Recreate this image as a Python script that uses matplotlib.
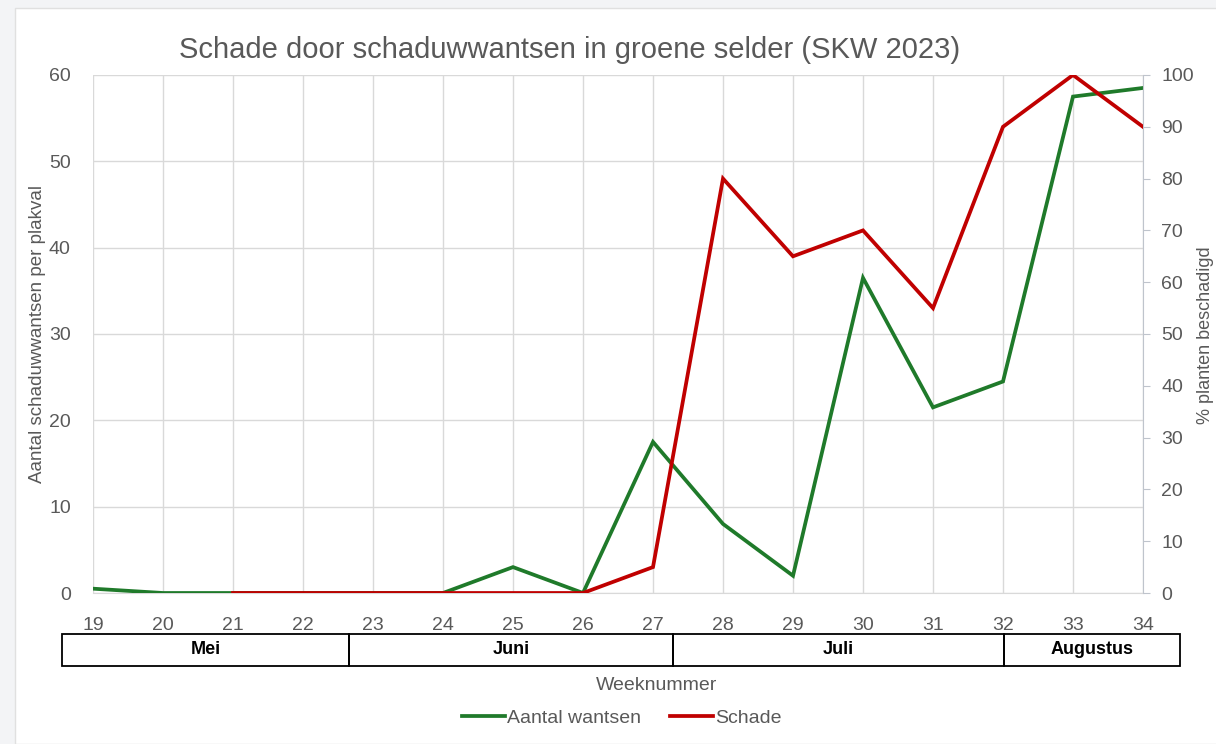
import matplotlib.pyplot as plt
import matplotlib.patches as mpatches
import matplotlib.transforms as mtransforms
from matplotlib.lines import Line2D

plt.rcParams['font.family'] = ['Liberation Sans', 'DejaVu Sans']

# data
weeks = list(range(19, 35))
wantsen = [0.5, 0, 0, 0, 0, 0, 3, 0, 17.5, 8, 2, 36.5, 21.5, 24.5, 57.5, 58.5]
schade_weeks = list(range(21, 35))
schade = [0, 0, 0, 0, 0, 0, 5, 80, 65, 70, 55, 90, 100, 90]

months = ["Mei", "Juni", "Juli", "Augustus"]
month_edges = [18.56, 22.66, 27.29, 32.01, 34.53]

green = "#1f7a2a"
red = "#c00000"
grid_c = "#d9d9d9"
txt_c = "#595959"

fig = plt.figure(figsize=(12.16, 7.44), dpi=100, facecolor="#f3f4f6")
fig.patches.append(mpatches.Rectangle((15 / 1216, 0), 1, 1 - 8 / 744, transform=fig.transFigure,
                                      facecolor="white", edgecolor="#e0e0e0", zorder=-1))

ax = fig.add_axes([93 / 1216, 1 - 593 / 744, (1143 - 93) / 1216, (593 - 75) / 744])
ax.set_facecolor("none")
ax.plot(weeks, wantsen, color=green, lw=2.7, solid_joinstyle="miter", zorder=3)
ax.set_xlim(19, 34)
ax.set_ylim(0, 60)
ax.set_yticks(range(0, 61, 10))
ax.set_xticks(weeks)
ax.grid(True, color=grid_c, lw=1)
for s in ["top", "left", "right"]:
    ax.spines[s].set_visible(False)
ax.spines["bottom"].set_color(grid_c)
ax.tick_params(axis="both", length=0, labelsize=14, colors=txt_c)
ax.tick_params(axis="x", pad=17)
ax.tick_params(axis="y", pad=16)
ax.set_ylabel("Aantal schaduwwantsen per plakval", fontsize=13.5, color=txt_c, labelpad=2)

ax2 = ax.twinx()
ax2.plot(schade_weeks, schade, color=red, lw=2.7, solid_joinstyle="miter", zorder=4)
ax2.set_ylim(0, 100)
ax2.set_yticks(range(0, 101, 10))
for s in ["top", "left", "bottom"]:
    ax2.spines[s].set_visible(False)
ax2.spines["right"].set_color("#bfc4cc")
ax2.tick_params(axis="y", length=5, color="#bfc4cc", labelsize=14, colors=txt_c, pad=8)
fig.text(1206 / 1216, 1 - 335 / 744, "% planten beschadigd", rotation=90, fontsize=13,
         color=txt_c, ha="center", va="center")

# month table under the axis
trans = mtransforms.blended_transform_factory(ax.transData, ax.transAxes)
y0 = -(666 - 593) / 518
h = (666 - 634) / 518
for i, m in enumerate(months):
    x0, x1 = month_edges[i], month_edges[i + 1]
    ax.add_patch(mpatches.Rectangle((x0, y0), x1 - x0, h, transform=trans, fill=False,
                                    edgecolor="black", lw=1.3, clip_on=False))
    ax.text((x0 + x1) / 2, y0 + h / 2, m, transform=trans, ha="center", va="center",
            fontsize=13, fontweight="bold", color="black")

fig.text(657 / 1216, 1 - 686 / 744, "Weeknummer", ha="center", va="center", fontsize=14, color=txt_c)
fig.text(570 / 1216, 1 - 50 / 744, "Schade door schaduwwantsen in groene selder (SKW 2023)",
         ha="center", va="center", fontsize=21, color=txt_c)

handles = [Line2D([], [], color=green, lw=2.7), Line2D([], [], color=red, lw=2.7)]
fig.legend(handles, ["Aantal wantsen", "Schade"], loc="center", bbox_to_anchor=(622 / 1216, 1 - 718 / 744),
           ncol=2, frameon=False, fontsize=14, handlelength=2.2, handletextpad=0.1, columnspacing=1.5,
           labelcolor=txt_c)

fig.savefig("out.png", dpi=100, facecolor=fig.get_facecolor())
